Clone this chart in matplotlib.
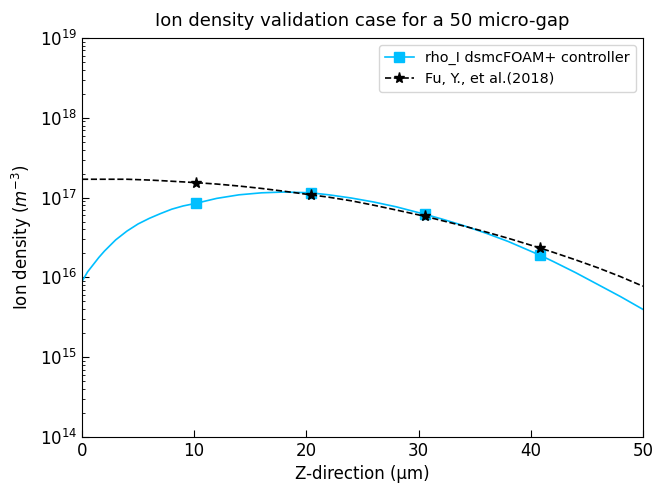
import matplotlib.pyplot as plt
import numpy as np

# z positions (micrometres)
z = [0, 0.25, 0.5, 1, 1.5, 2, 3, 4, 5, 6, 7, 8, 9, 10.2, 12, 14, 16, 18, 20.4, 22, 24, 26, 28,
     30.6, 32, 34, 36, 38, 40.8, 42, 44, 46, 48, 50]
# log10 of ion density
log_dsmc = [15.95, 16.01, 16.07, 16.16, 16.25, 16.33, 16.47, 16.58, 16.67, 16.74, 16.80,
            16.855, 16.895, 16.93, 16.99, 17.035, 17.06, 17.07, 17.06, 17.035, 16.995,
            16.945, 16.885, 16.79, 16.735, 16.65, 16.555, 16.45, 16.28, 16.20, 16.06,
            15.91, 15.76, 15.60]
log_fu = [17.23, 17.23, 17.23, 17.23, 17.23, 17.23, 17.23, 17.23, 17.225, 17.22, 17.213,
          17.205, 17.197, 17.187, 17.17, 17.145, 17.115, 17.08, 17.035, 17.005, 16.96,
          16.905, 16.845, 16.765, 16.715, 16.645, 16.57, 16.49, 16.37, 16.315, 16.22,
          16.12, 16.01, 15.89]
mark_idx = [13, 18, 23, 28]

rho_dsmc = 10 ** np.array(log_dsmc)
rho_fu = 10 ** np.array(log_fu)

fig = plt.figure(figsize=(6.54, 4.86), dpi=100)
ax = fig.add_axes([0.1254, 0.1008, 0.8576, 0.821])

ax.plot(z, rho_dsmc, '-', color='deepskyblue', lw=1.2, marker='s', ms=7,
        markevery=mark_idx, label='rho_I dsmcFOAM+ controller')
ax.plot(z, rho_fu, '--', color='black', lw=1.2, marker='*', ms=8,
        markevery=mark_idx, label='Fu, Y., et al.(2018)')

ax.set_yscale('log')
ax.set_xlim(0, 50)
ax.set_ylim(1e14, 1e19)
ax.tick_params(which='both', direction='in', labelsize=12)
ax.tick_params(which='major', length=5)
ax.tick_params(which='minor', length=2.5)

ax.set_title('Ion density validation case for a 50 micro-gap', fontsize=13, pad=9)
ax.set_xlabel('Z-direction (\u03bcm)', fontsize=12)
ax.set_ylabel('Ion density ($m^{-3}$)', fontsize=12)
ax.legend(loc='upper right', fontsize=10.4)

fig.savefig('out.png', dpi=100)
